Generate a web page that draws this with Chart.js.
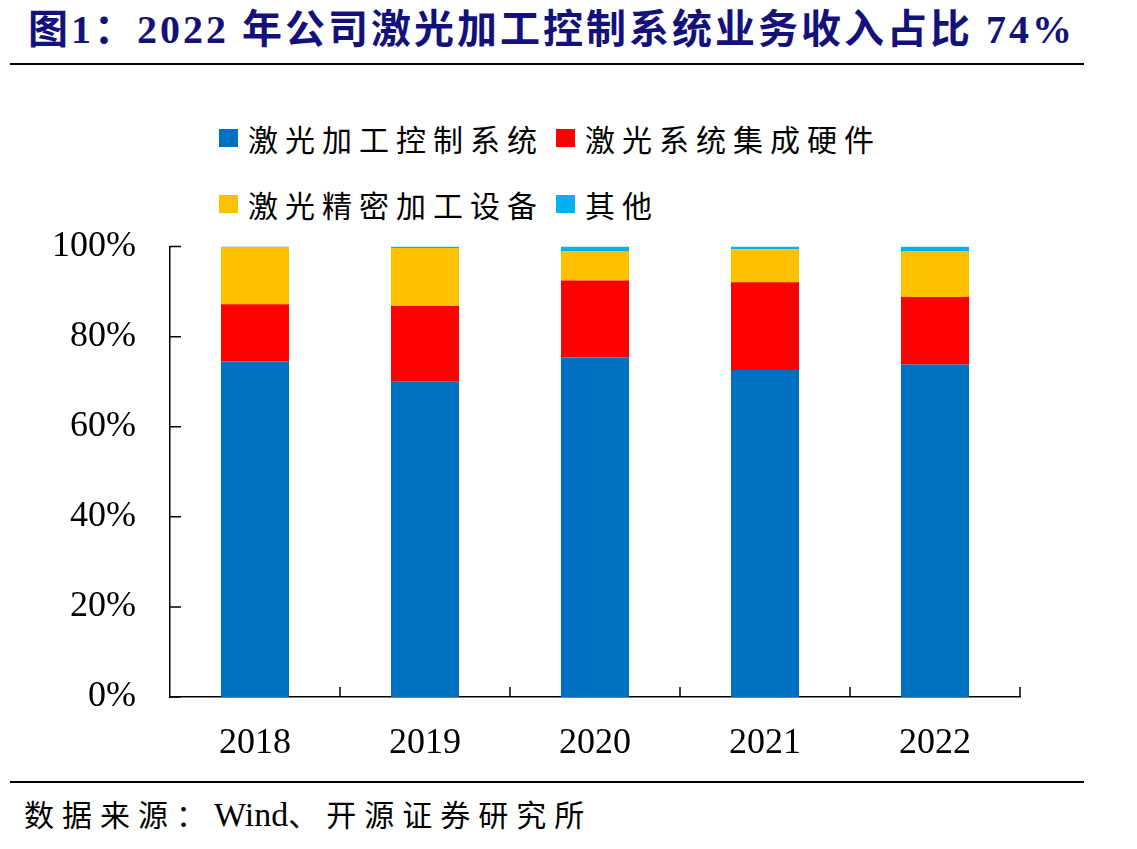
<!DOCTYPE html>
<html>
<head>
<meta charset="utf-8">
<script src="https://cdn.jsdelivr.net/npm/chart.js@4"></script>
<style>
body { margin: 0; background: #fff; width: 1137px; height: 849px; position: relative; overflow: hidden; }
#title { position: absolute; left: 28px; top: 10px; font: bold 40px 'Liberation Serif', 'Noto Sans CJK SC', serif; line-height: 40px; letter-spacing: 3px; color: #13127a; white-space: nowrap; }
.rule { position: absolute; left: 10px; width: 1074px; height: 2px; background: #000; }
.item { position: absolute; display: flex; align-items: center; height: 40px; font: 30px 'Noto Sans CJK SC', sans-serif; letter-spacing: 7px; color: #000; white-space: nowrap; }
.box { width: 19px; height: 18px; margin-right: 10px; }
#chart { position: absolute; left: 0; top: 199px; }
#source { position: absolute; left: 24px; top: 795px; font: 30px 'Liberation Serif', 'Noto Sans CJK SC', serif; line-height: 40px; letter-spacing: 8px; color: #000; white-space: nowrap; }
#source span { letter-spacing: 0; font-size: 34px; }
</style>
</head>
<body>
<div id="title">图1：2022 年公司激光加工控制系统业务收入占比 74%</div>
<div class="rule" style="top:63px"></div>
<div id="legend"></div>
<canvas id="chart" width="1137" height="581"></canvas>
<div class="rule" style="top:781px"></div>
<div id="source">数据来源：<span>Wind</span>、开源证券研究所</div>
<script>
// 数据（单位：%）
const years = ['2018', '2019', '2020', '2021', '2022'];
const seriesNames = ['激光加工控制系统', '激光系统集成硬件', '激光精密加工设备', '其他'];
const seriesColors = ['#0070C0', '#FF0000', '#FFC000', '#00B0F0'];
const controlSystem = [74.5, 70.0, 75.4, 72.6, 73.8];
const integratedHardware = [12.7, 16.8, 17.1, 19.5, 15.0];
const precisionEquipment = [12.6, 12.9, 6.5, 7.3, 10.2];
const others = [0.2, 0.3, 1.0, 0.6, 1.0];
const seriesValues = [controlSystem, integratedHardware, precisionEquipment, others];

// 图例（两行两列）
const legendEl = document.getElementById('legend');
seriesNames.forEach((name, i) => {
    const item = document.createElement('div');
    item.className = 'item';
    item.style.left = (i % 2 === 0 ? 219 : 556) + 'px';
    item.style.top = (i < 2 ? 118 : 184) + 'px';
    item.innerHTML = '<div class="box" style="background:' + seriesColors[i] + '"></div>' + name;
    legendEl.appendChild(item);
});

// 向内的刻度线
const innerTicks = {
    id: 'innerTicks',
    afterDraw(c) {
        const ctx = c.ctx;
        const x = c.scales.x;
        const y = c.scales.y;
        const step = x.getPixelForValue(1) - x.getPixelForValue(0);
        ctx.save();
        ctx.strokeStyle = '#000';
        ctx.lineWidth = 1.5;
        ctx.beginPath();
        for (let i = 0; i < years.length; i++) {
            const px = x.getPixelForValue(i) + step / 2;
            ctx.moveTo(px, x.top);
            ctx.lineTo(px, x.top - 10);
        }
        y.ticks.forEach(t => {
            const py = y.getPixelForValue(t.value);
            ctx.moveTo(y.right, py);
            ctx.lineTo(y.right + 11, py);
        });
        ctx.stroke();
        ctx.restore();
    }
};

const tickFont = { family: "'Liberation Serif', 'Times New Roman', serif", size: 36 };

new Chart(document.getElementById('chart'), {
    type: 'bar',
    data: {
        labels: years,
        datasets: seriesNames.map((name, i) => ({
            label: name,
            data: seriesValues[i],
            backgroundColor: seriesColors[i],
            borderWidth: 0,
            barPercentage: 0.4,
            categoryPercentage: 1
        }))
    },
    options: {
        responsive: false,
        animation: false,
        layout: { padding: { left: 0, right: 117, top: 0, bottom: 3 } },
        plugins: {
            legend: { display: false },
            tooltip: { enabled: false }
        },
        scales: {
            x: {
                stacked: true,
                grid: { display: false },
                border: { color: '#000', width: 1.5 },
                ticks: { font: tickFont, color: '#000', padding: 17 },
                afterFit: s => { s.height = 80; }
            },
            y: {
                stacked: true,
                min: 0,
                max: 100,
                grid: { display: false },
                border: { color: '#000', width: 1.5 },
                ticks: {
                    stepSize: 20,
                    font: tickFont,
                    color: '#000',
                    padding: 26,
                    callback: v => v + '%'
                },
                afterFit: s => { s.width = 170; }
            }
        }
    },
    plugins: [innerTicks]
});
</script>
</body>
</html>
